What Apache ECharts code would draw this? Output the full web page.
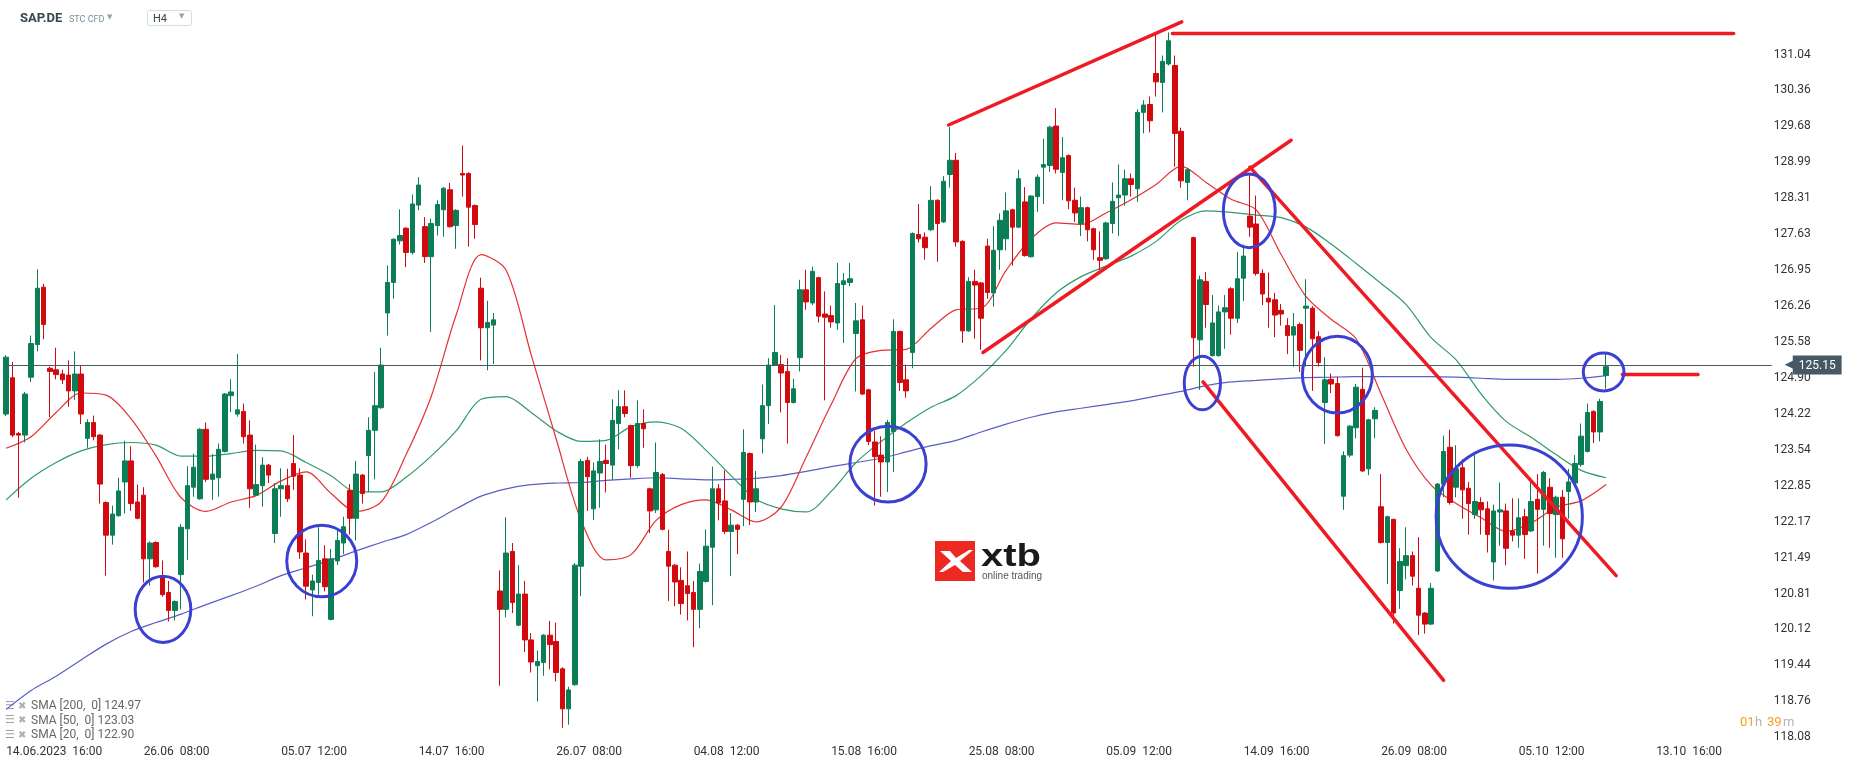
<!DOCTYPE html>
<html>
<head>
<meta charset="utf-8">
<title>SAP.DE H4</title>
<script src="https://cdn.jsdelivr.net/npm/echarts@6/dist/echarts.min.js"></script>
<style>
  html, body { margin: 0; padding: 0; background: #fff; }
  #chart { width: 1866px; height: 767px; }
</style>
</head>
<body>
<div id="chart"></div>
<script>
// time axis labels, one every 22 H4 candles
const xLabels = ['14.06.2023  16:00', '26.06  08:00', '05.07  12:00', '14.07  16:00', '26.07  08:00',
  '04.08  12:00', '15.08  16:00', '25.08  08:00', '05.09  12:00', '14.09  16:00', '26.09  08:00',
  '05.10  12:00', '13.10  16:00'];

const yTickLabels = ['118.08', '118.76', '119.44', '120.12', '120.81', '121.49', '122.17', '122.85',
  '123.54', '124.22', '124.90', '125.58', '126.26', '126.95', '127.63', '128.31', '128.99', '129.68',
  '130.36', '131.04'];

const open = [
  124.22,124.91,123.85,123.82,124.92,125.54,126.63,125.09,125.06,124.98,
  124.96,124.66,124.98,123.76,124.06,123.82,122.54,121.92,122.29,122.93,
  123.33,122.55,122.68,121.47,121.78,121.13,120.83,120.49,121.17,122.04,
  122.83,122.61,123.93,122.98,123.01,123.51,124.57,124.22,124.27,123.82,
  122.68,122.86,123.25,121.95,122.80,122.86,123.28,123.06,121.58,120.88,
  121.02,121.47,120.32,121.43,121.77,122.77,122.24,123.06,123.43,123.91,
  124.34,126.14,126.72,127.51,127.75,127.29,128.19,127.78,127.21,127.80,
  128.10,128.48,127.80,128.79,128.79,128.18,126.61,125.86,125.91,120.86,
  120.51,121.61,120.21,120.80,119.93,119.44,119.50,120.02,119.90,119.38,
  118.62,119.08,121.33,123.34,122.42,123.10,123.34,123.25,124.04,124.36,
  124.00,123.24,124.04,122.80,122.40,123.07,121.61,121.35,121.06,120.96,
  120.83,120.51,121.04,121.69,122.80,122.57,121.99,122.11,122.60,123.47,
  122.55,123.75,124.38,125.15,125.16,125.03,124.44,125.29,126.58,126.33,
  126.81,126.12,126.09,125.95,126.68,126.72,125.75,126.01,124.68,123.69,
  123.44,123.31,123.89,125.79,124.87,125.39,127.63,127.58,127.72,128.28,
  127.87,128.77,129.04,127.50,125.80,126.74,126.71,127.41,126.52,127.34,
  127.55,128.10,127.77,128.25,127.21,128.35,128.91,128.94,129.69,128.81,
  129.13,128.28,127.84,128.14,127.74,127.19,127.17,127.84,128.33,128.38,
  128.69,128.50,129.95,130.10,130.69,130.52,130.87,130.84,129.59,128.62,
  127.57,125.63,126.74,125.33,125.33,126.16,126.60,126.04,126.80,127.98,
  127.83,126.89,126.42,126.39,126.19,125.90,125.72,125.92,126.23,126.23,
  125.69,124.44,124.88,124.80,122.66,123.44,123.96,124.69,123.18,124.13,
  122.46,121.78,122.22,120.87,121.34,121.53,120.91,120.44,120.23,121.24,
  122.89,123.59,122.83,123.20,122.81,122.31,122.54,122.42,121.41,122.36,
  122.38,122.00,121.92,122.27,122.00,122.60,122.41,122.83,122.31,122.64,
  122.75,122.91,123.26,123.51,124.27,123.88,124.95
];
const high = [
  125.34,125.21,123.88,124.64,125.71,126.97,126.69,125.12,125.48,125.06,
  125.24,125.41,125.15,124.12,124.19,123.84,122.56,122.48,123.01,123.71,
  123.61,122.88,122.83,121.80,121.80,121.44,121.05,120.68,122.13,123.23,
  123.47,123.95,124.06,123.46,123.66,124.62,124.88,125.36,124.42,124.10,
  123.64,123.40,123.27,122.91,123.19,123.18,123.82,123.19,121.84,121.17,
  122.07,121.73,121.66,122.01,122.27,122.89,123.33,123.08,124.16,125.02,
  125.48,127.04,127.56,128.11,127.77,128.39,128.72,127.96,127.93,128.28,
  128.53,128.61,128.11,129.32,128.81,128.20,126.81,126.37,126.14,121.25,
  122.26,121.77,121.35,121.05,120.06,119.73,120.04,120.29,120.26,119.41,
  119.04,121.39,123.37,123.41,123.30,123.74,123.64,124.50,124.67,124.67,
  124.02,124.48,124.31,122.82,123.68,123.10,122.02,121.37,121.31,121.61,
  121.05,121.38,122.03,123.22,122.89,123.15,122.34,122.13,123.93,123.49,
  123.14,124.78,125.28,126.29,125.34,125.28,124.89,126.77,126.96,127.02,
  126.83,126.55,126.28,127.09,126.90,127.09,126.33,126.28,124.70,123.90,
  123.80,124.11,126.02,125.80,125.16,127.67,128.21,127.67,128.55,128.30,
  128.74,129.67,129.18,127.52,126.82,126.96,126.73,127.55,127.79,128.03,
  128.43,128.12,128.86,128.53,128.38,128.77,129.45,129.70,130.03,129.48,
  129.15,128.52,128.35,128.16,127.76,127.69,127.87,128.62,128.96,128.86,
  128.79,130.01,130.18,130.25,131.42,131.03,131.47,131.03,129.66,128.88,
  127.59,126.85,126.92,126.48,126.28,126.48,126.63,127.30,127.44,128.78,
  128.37,126.97,126.91,126.52,126.31,126.04,126.14,125.96,126.78,126.27,
  125.79,125.30,124.99,124.93,123.51,124.01,124.79,125.10,124.13,124.35,
  123.08,122.29,122.23,121.67,122.07,121.61,121.88,120.46,121.01,122.91,
  123.81,123.92,123.63,123.36,122.93,123.44,122.64,122.56,122.50,122.92,
  122.52,122.62,122.62,122.42,122.93,123.08,123.14,123.00,122.67,122.78,
  123.18,123.44,124.04,124.42,124.29,124.51,125.36
];
const low = [
  124.18,123.78,122.63,123.68,124.83,125.41,125.64,124.16,124.88,124.79,
  124.36,124.49,124.03,123.58,123.72,122.52,121.15,121.74,122.27,122.33,
  122.38,122.22,121.02,120.96,121.30,120.75,120.28,120.30,120.51,121.45,
  122.65,122.59,122.93,122.59,122.65,123.49,124.26,124.17,123.66,122.44,
  122.67,122.46,122.91,121.77,122.27,122.55,122.78,121.47,120.70,120.38,
  120.79,120.85,120.30,121.35,121.56,121.93,121.82,122.52,122.74,122.98,
  124.32,125.71,126.41,127.44,127.01,127.25,128.09,127.09,125.78,127.61,
  127.59,127.76,127.36,128.35,127.40,127.55,125.24,125.05,125.17,119.06,
  120.36,120.44,120.19,119.70,119.31,118.76,119.25,119.37,119.14,118.26,
  118.32,119.06,120.76,122.38,122.21,122.44,122.73,122.97,123.55,124.16,
  123.01,123.20,123.58,121.96,122.34,122.01,120.67,120.57,120.41,120.30,
  119.79,120.15,121.02,120.59,122.20,121.94,121.14,121.56,122.09,122.11,
  122.36,123.47,124.03,125.13,124.25,123.66,124.42,125.03,126.20,126.29,
  125.96,124.48,125.86,125.82,125.57,126.65,124.65,124.58,123.63,122.48,
  122.65,122.74,123.12,124.66,124.53,125.09,127.48,127.15,127.70,127.11,
  127.85,128.52,127.40,125.57,125.78,125.65,125.44,126.41,126.26,126.96,
  127.33,127.04,127.75,127.21,127.19,128.06,128.21,128.82,128.79,128.28,
  128.11,127.87,127.60,127.50,127.15,126.96,127.15,127.65,127.60,128.18,
  128.35,128.25,129.55,129.57,130.25,129.95,130.84,128.92,128.52,128.28,
  125.12,124.68,125.86,125.31,125.31,125.46,125.73,125.95,126.37,127.59,
  126.85,126.29,125.86,125.68,125.90,125.36,125.12,125.02,125.12,124.66,
  125.12,123.65,124.62,123.79,122.40,123.40,123.76,123.12,123.06,123.76,
  121.76,120.99,120.24,120.52,121.08,120.96,120.02,120.05,120.21,121.22,
  122.64,122.50,122.64,122.23,121.93,122.23,121.93,121.59,121.06,121.72,
  121.35,121.80,121.68,121.47,121.98,121.19,121.72,121.68,121.49,121.49,
  122.23,122.89,123.22,123.49,123.67,123.70,124.70
];
const close = [
  125.30,123.82,123.82,124.60,125.56,126.61,125.92,125.03,124.97,124.87,
  124.66,124.98,124.22,124.06,123.79,122.89,121.92,122.32,122.76,123.33,
  122.52,122.24,121.47,121.77,121.32,120.79,120.49,120.66,122.07,122.86,
  123.21,123.93,122.98,123.08,123.55,124.60,124.64,124.30,123.79,122.80,
  122.88,123.25,123.06,122.80,122.86,122.61,123.04,121.60,120.95,121.05,
  121.44,120.94,121.47,121.82,122.08,122.24,123.08,122.71,123.91,124.38,
  125.15,126.72,127.54,127.61,127.29,128.21,128.57,127.21,127.84,128.20,
  128.51,127.78,128.09,128.76,128.15,127.82,125.86,125.96,126.01,120.51,
  121.58,120.64,120.80,119.93,119.51,119.52,120.02,119.84,119.31,118.62,
  118.98,121.35,123.32,123.03,123.14,123.32,123.28,124.10,124.36,124.23,
  123.24,124.04,123.94,122.38,123.11,122.03,121.33,121.03,120.62,120.81,
  120.51,121.23,121.71,122.80,122.53,121.99,122.11,122.03,123.49,122.55,
  122.80,124.38,125.15,125.39,125.00,124.44,124.70,126.58,126.35,126.93,
  126.08,126.06,125.97,126.70,126.75,126.79,125.99,124.60,123.70,123.41,
  123.31,124.06,125.79,124.82,124.66,127.65,127.55,127.38,128.28,127.84,
  128.64,129.04,127.49,125.80,126.74,126.67,126.04,126.53,127.33,127.90,
  128.08,127.77,128.69,127.23,128.36,128.72,128.96,129.67,128.87,129.09,
  128.27,128.04,128.14,127.72,127.34,127.14,127.85,128.26,128.38,128.69,
  128.58,129.95,130.09,129.79,130.53,130.92,131.31,129.55,128.65,128.86,
  125.67,126.77,126.30,125.95,126.16,126.24,126.04,126.79,127.22,127.77,
  126.89,126.50,126.35,126.10,126.12,125.71,125.88,125.43,126.27,125.65,
  125.20,124.87,124.79,123.81,123.43,123.99,124.73,123.14,124.11,124.29,
  121.78,122.27,120.44,121.42,121.53,121.14,120.40,120.23,120.91,122.89,
  123.51,122.54,123.18,122.78,122.52,122.56,122.40,121.93,122.38,122.40,
  121.67,121.92,122.25,121.93,122.56,122.41,123.11,122.33,122.64,121.85,
  122.93,123.28,123.80,124.25,123.88,124.46,125.12
];

// moving averages, one value every 4 candles
const smaStep = 4;
const sma20 = [
  123.57,123.79,124.25,124.62,124.58,124.13,123.42,122.63,122.37,122.55,
  122.67,122.95,123.12,122.71,122.37,122.55,123.45,124.55,126.10,127.25,
  126.95,125.35,123.75,122.20,121.45,121.55,122.20,122.50,122.59,122.40,
  122.17,122.45,123.40,124.40,125.28,125.43,125.45,125.85,126.20,126.23,
  126.95,127.55,127.85,127.82,128.04,128.29,128.58,128.93,128.62,128.30,
  128.10,127.25,126.45,126.02,125.65,124.60,123.55,122.87,122.52,122.25,
  121.99,122.15,122.45,122.57,122.88
];
const sma50 = [
  122.59,123.00,123.30,123.52,123.64,123.68,123.63,123.42,123.42,123.47,
  123.53,123.52,123.30,123.05,122.74,122.74,123.02,123.42,123.90,124.50,
  124.55,124.25,123.90,123.70,123.72,123.98,124.07,123.95,123.53,123.05,
  122.60,122.42,122.36,122.75,123.30,123.70,124.05,124.35,124.57,124.95,
  125.43,126.03,126.52,126.83,127.03,127.22,127.50,127.90,128.08,128.05,
  128.00,127.95,127.77,127.45,127.08,126.70,126.30,125.67,125.25,124.60,
  124.08,123.78,123.45,123.15,123.01
];
const sma200 = [
  118.61,118.97,119.24,119.55,119.85,120.09,120.26,120.42,120.60,120.77,
  120.95,121.15,121.30,121.45,121.62,121.78,121.93,122.16,122.42,122.66,
  122.80,122.88,122.91,122.92,122.96,122.99,123.01,122.99,122.97,122.98,
  123.00,123.05,123.13,123.22,123.30,123.38,123.50,123.62,123.72,123.88,
  124.03,124.16,124.26,124.33,124.40,124.47,124.56,124.65,124.76,124.83,
  124.86,124.89,124.91,124.92,124.93,124.93,124.93,124.93,124.92,124.90,
  124.88,124.88,124.88,124.90,124.95
];
const lastPrice = 125.15;
const legendRows = ['SMA [200,  0] 124.97', 'SMA [50,  0] 123.03', 'SMA [20,  0] 122.90'];

// drawn annotations, in candle index / price units
const trendLines = [   // [i1, p1, i2, p2]
  [150.8, 129.71, 188.1, 131.67],
  [186.6, 131.45, 276.4, 131.45],
  [156.3, 125.39, 205.6, 129.42],
  [199.0, 128.91, 257.6, 121.15],
  [191.5, 124.83, 230.0, 119.16],
  [258.6, 124.97, 270.7, 124.97]
];
const circles = [      // [i, price, radius in candles, radius in price]
  [25.1, 120.51, 4.45, 0.63],
  [50.5, 121.43, 5.6, 0.68],
  [141.1, 123.27, 6.1, 0.72],
  [191.4, 124.81, 2.9, 0.51],
  [198.9, 128.08, 4.15, 0.70],
  [213.0, 124.97, 5.6, 0.73],
  [240.5, 122.27, 11.7, 1.36],
  [255.6, 125.02, 3.25, 0.36]
];

const N = 283;               // candle slots on the axis (data + empty space on the right)
const yMin = 118.08;
const yMax = 131.72;
const yStep = yMin / 173;    // tick step, min is an exact multiple
const GREEN = '#0b7e55', RED = '#d2090e';
const FONT = 'Roboto, "Noto Sans", sans-serif';

const cats = Array.from({ length: N }, (_, i) => i);
const candles = open.map((o, i) => [o, close[i], low[i], high[i]]);
const smaData = arr => arr.map((v, k) => [k * smaStep, v]);

const chart = echarts.init(document.getElementById('chart'));

function txt(x, y, text, font, fill, extra) {
  return Object.assign({
    type: 'text', x: x, y: y, silent: true,
    style: { text: text, font: font, fill: fill, textVerticalAlign: 'middle', verticalAlign: 'middle' }
  }, extra || {});
}

const graphics = [
  // header
  txt(20, 19, 'SAP.DE', 'bold 13px ' + FONT, '#37474f'),
  txt(69, 19.5, 'STC CFD', '9px ' + FONT, '#78909c'),
  txt(107, 17, '▼', '7px "DejaVu Sans"', '#90a4ae'),
  { type: 'rect', shape: { x: 147.5, y: 10.5, width: 44, height: 15, r: 2 }, silent: true,
    style: { fill: '#fff', stroke: '#d5dde2', lineWidth: 1 } },
  txt(153, 19, 'H4', '11px ' + FONT, '#37474f'),
  txt(179, 16, '▼', '7px "DejaVu Sans"', '#90a4ae'),
  // logo
  { type: 'rect', shape: { x: 935, y: 541, width: 40, height: 40 }, silent: true, style: { fill: '#ec2a23' } },
  { type: 'polygon', silent: true, style: { fill: '#fff' },
    shape: { points: [[940, 551], [950, 551], [956, 558], [969, 550], [973, 550], [960, 561], [972, 572],
      [963, 572], [955, 565], [943, 572], [939, 572], [951, 561]] } },
  txt(981, 557, 'xtb', 'bold 32px "Liberation Sans", Arial, sans-serif', '#1a1a1a', { scaleX: 1.25 }),
  txt(982, 576, 'online trading', '10px "Liberation Sans", Arial, sans-serif', '#555'),
  // countdown
  txt(1740, 723, '01', '13px ' + FONT, '#f5a11c'),
  txt(1755, 723, 'h', '13px ' + FONT, '#b5b5b5'),
  txt(1767, 723, '39', '13px ' + FONT, '#f5a11c'),
  txt(1783, 723, 'm', '13px ' + FONT, '#b5b5b5')
];
legendRows.forEach((t, k) => {
  const y = 706 + k * 14.5;
  graphics.push(txt(5, y, '☰', 'bold 11px "DejaVu Sans"', '#9e9e9e'));
  graphics.push(txt(18, y, '✖', '10px "DejaVu Sans"', '#b0b0b0'));
  graphics.push(txt(31, y, t, '12px ' + FONT, '#666'));
});

chart.setOption({
  animation: false,
  backgroundColor: '#ffffff',
  grid: { left: 3, right: 1866 - 3 - N * 6.25, top: 19.2, bottom: 29.7 },
  xAxis: [
    {
      type: 'category', data: cats, boundaryGap: true,
      axisLine: { show: false }, axisTick: { show: false }, splitLine: { show: false },
      axisLabel: {
        interval: 21, align: 'left', margin: 9, color: '#333', fontSize: 12, fontFamily: FONT,
        formatter: (v, idx) => xLabels[idx / 22] || ''
      }
    },
    { type: 'value', min: -0.5, max: N - 0.5, show: false, splitLine: { show: false } }
  ],
  yAxis: {
    type: 'value', position: 'right', min: yMin, max: yMax, interval: yStep,
    splitLine: { show: false }, axisLine: { show: false }, axisTick: { show: false },
    axisLabel: {
      showMaxLabel: false, margin: 2, color: '#333', fontSize: 12, fontFamily: FONT,
      formatter: v => yTickLabels[Math.round(v / yStep) - 173] || ''
    }
  },
  graphic: graphics,
  series: [
    {
      name: 'SMA200', type: 'line', xAxisIndex: 1, data: smaData(sma200), showSymbol: false,
      smooth: 0.3, lineStyle: { color: '#5a5fc6', width: 1.2 }, z: 2
    },
    {
      name: 'SMA50', type: 'line', xAxisIndex: 1, data: smaData(sma50), showSymbol: false,
      smooth: 0.3, lineStyle: { color: '#2f9a6e', width: 1.2 }, z: 2
    },
    {
      name: 'SMA20', type: 'line', xAxisIndex: 1, data: smaData(sma20), showSymbol: false,
      smooth: 0.3, lineStyle: { color: '#e53131', width: 1.2 }, z: 2
    },
    {
      name: 'SAP.DE', type: 'candlestick', xAxisIndex: 0, data: candles, barWidth: 5, z: 3,
      itemStyle: { color: GREEN, color0: RED, borderColor: GREEN, borderColor0: RED, borderWidth: 1 },
      markLine: {
        silent: true, symbol: 'none', animation: false,
        lineStyle: { color: '#4a5963', width: 1, type: 'solid' },
        label: {
          position: 'end', distance: 13, formatter: '{a|◀}{b|' + lastPrice.toFixed(2) + '}',
          rich: {
            a: { color: '#455a64', fontSize: 13, fontFamily: 'DejaVu Sans', padding: [0, -2, 0, 0] },
            b: { color: '#fff', backgroundColor: '#455a64', padding: [4, 6, 3, 6], fontSize: 12, fontFamily: FONT }
          }
        },
        data: [{ yAxis: lastPrice }]
      }
    },
    {
      name: 'lines', type: 'custom', xAxisIndex: 1, data: trendLines, z: 5, silent: true,
      encode: { x: [0, 2], y: [1, 3] },
      renderItem: (params, api) => {
        const a = api.coord([api.value(0), api.value(1)]);
        const b = api.coord([api.value(2), api.value(3)]);
        return { type: 'line', shape: { x1: a[0], y1: a[1], x2: b[0], y2: b[1] },
          style: { stroke: '#ef1b24', lineWidth: 3.5, lineCap: 'round' } };
      }
    },
    {
      name: 'circles', type: 'custom', xAxisIndex: 1, data: circles, z: 6, silent: true,
      encode: { x: 0, y: 1 },
      renderItem: (params, api) => {
        const c = api.coord([api.value(0), api.value(1)]);
        const s = api.size([api.value(2), api.value(3)]);
        return { type: 'ellipse', shape: { cx: c[0], cy: c[1], rx: s[0], ry: s[1] },
          style: { fill: 'none', stroke: '#3c40d2', lineWidth: 3 } };
      }
    }
  ]
});
</script>
</body>
</html>
